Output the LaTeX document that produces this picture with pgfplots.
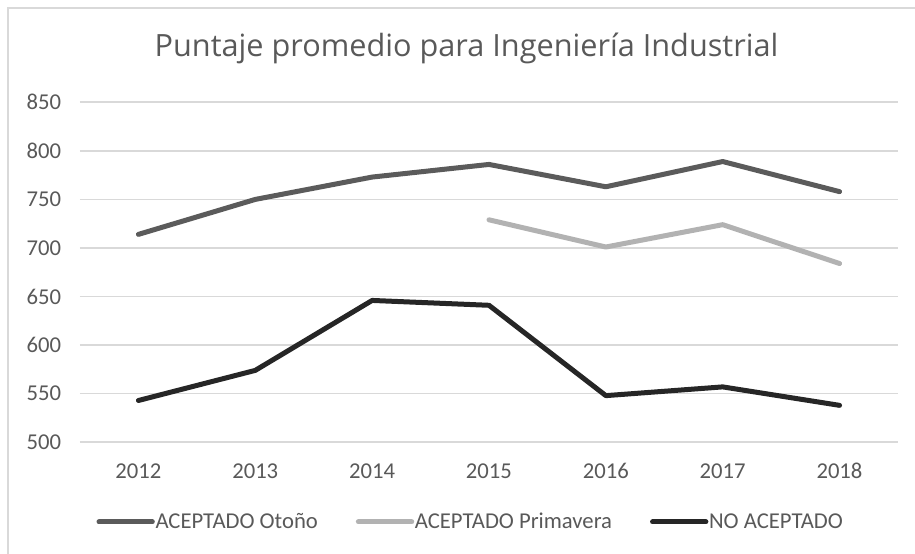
\documentclass[border=0pt]{standalone}
\usepackage{pgfplots}
\pgfplotsset{compat=1.18}
\usepackage{fontspec}
\setmainfont{Carlito}
\newfontfamily\titlefont{Open Sans}
\definecolor{txt}{HTML}{595959}
\definecolor{gridc}{HTML}{D9D9D9}
\definecolor{otono}{HTML}{5B5B5B}
\definecolor{prima}{HTML}{B2B2B2}
\definecolor{noac}{HTML}{262626}
\begin{document}
\begin{tikzpicture}
\useasboundingbox (-60pt,-83.8pt) rectangle (626.25pt,331.7pt);
\draw[gridc, line width=1.2pt] (-54pt,-84pt) -- (-54pt,325.7pt) -- (627pt,325.7pt);
\node[txt, font=\titlefont\fontsize{23}{27}\selectfont] at (289.9pt,295.7pt) {Puntaje promedio para Ingeniería Industrial};
\begin{axis}[
  at={(0pt,0pt)}, anchor=south west,
  scale only axis, width=613.5pt, height=255pt,
  xmin=2011.5, xmax=2018.5, ymin=500, ymax=850,
  xtick={2012,...,2018}, ytick={500,550,...,850},
  axis line style={draw=none},
  tick style={draw=none},
  ymajorgrids, grid style={gridc, line width=1.2pt},
  /pgf/number format/assume math mode=true,
  /pgf/number format/1000 sep={},
  ticklabel style={txt, font=\fontsize{17}{20}\selectfont},
  xticklabel style={anchor=base, inner sep=0pt, yshift=-27pt},
  yticklabel style={anchor=east, inner sep=0pt, xshift=-14pt},
  legend style={at={(0.4768,-0.2345)}, anchor=center, draw=none, fill=none,
    legend columns=3, font=\fontsize{17}{20}\selectfont, text=txt,
    /tikz/every even column/.append style={column sep=28pt},
    nodes={inner sep=0.5pt}},
  legend image code/.code={\draw[#1, line cap=round] (0pt,0pt) -- (40pt,0pt);},
  every axis plot/.append style={line width=3.75pt, line join=round, line cap=round, mark=none},
]
\addplot[otono] coordinates {(2012,714) (2013,750) (2014,773) (2015,786) (2016,763) (2017,789) (2018,758)};
\addlegendentry{ACEPTADO Otoño}
\addplot[prima] coordinates {(2015,729) (2016,701) (2017,724) (2018,684)};
\addlegendentry{ACEPTADO Primavera}
\addplot[noac] coordinates {(2012,543) (2013,574) (2014,646) (2015,641) (2016,548) (2017,557) (2018,538)};
\addlegendentry{NO ACEPTADO}
\end{axis}
\end{tikzpicture}
\end{document}
